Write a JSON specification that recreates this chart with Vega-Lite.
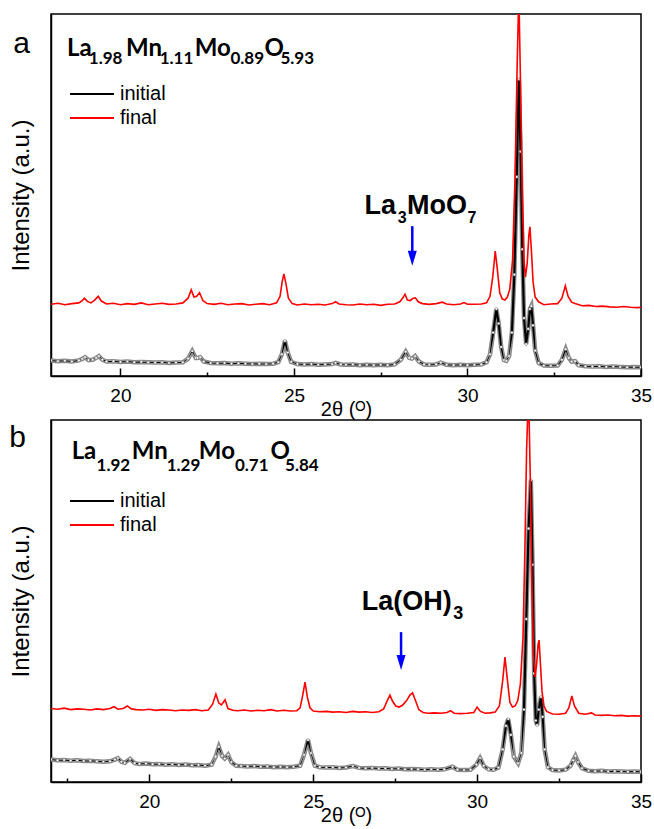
{
"$schema":"https://vega.github.io/schema/vega-lite/v6.json",
"background":"white",
"padding":{"left":8,"top":13,"right":0,"bottom":0},
"spacing":-3,
"config":{
 "view":{"stroke":"black","strokeWidth":1.5},
 "axis":{"grid":false,"domainColor":"black","domainWidth":1.5,"tickColor":"black","labelColor":"black","titleColor":"black","labelFont":"Liberation Sans","titleFont":"Liberation Sans","titleFontWeight":"normal"},
 "legend":{"labelFont":"Liberation Sans","labelFontSize":20,"labelColor":"black","padding":0}
},
"resolve":{"scale":{"color":"independent","size":"independent"}},
"datasets":{
"a_final":[{"x":18.0,"y":19.8},{"x":18.2,"y":20.1},{"x":18.4,"y":19.7},{"x":18.6,"y":20.0},{"x":18.8,"y":20.2},{"x":18.9,"y":20.8},{"x":18.96,"y":21.5},{"x":19.05,"y":20.6},{"x":19.15,"y":20.2},{"x":19.25,"y":20.9},{"x":19.36,"y":22.0},{"x":19.45,"y":20.7},{"x":19.6,"y":19.9},{"x":19.8,"y":20.1},{"x":20.0,"y":19.7},{"x":20.2,"y":20.0},{"x":20.4,"y":19.8},{"x":20.6,"y":20.2},{"x":20.8,"y":19.7},{"x":21.0,"y":19.9},{"x":21.2,"y":20.1},{"x":21.4,"y":19.8},{"x":21.6,"y":19.9},{"x":21.8,"y":20.2},{"x":21.95,"y":21.5},{"x":22.04,"y":23.8},{"x":22.12,"y":21.8},{"x":22.2,"y":22.0},{"x":22.28,"y":23.0},{"x":22.38,"y":20.8},{"x":22.5,"y":20.0},{"x":22.7,"y":19.8},{"x":22.9,"y":20.1},{"x":23.1,"y":19.7},{"x":23.3,"y":19.9},{"x":23.5,"y":20.0},{"x":23.7,"y":19.6},{"x":23.9,"y":19.8},{"x":24.1,"y":20.0},{"x":24.3,"y":19.7},{"x":24.5,"y":20.2},{"x":24.6,"y":22.0},{"x":24.66,"y":26.0},{"x":24.71,"y":28.2},{"x":24.77,"y":25.5},{"x":24.84,"y":21.5},{"x":24.95,"y":20.0},{"x":25.1,"y":19.6},{"x":25.3,"y":19.9},{"x":25.5,"y":19.7},{"x":25.7,"y":19.8},{"x":25.9,"y":19.6},{"x":26.1,"y":20.0},{"x":26.2,"y":20.5},{"x":26.3,"y":19.9},{"x":26.5,"y":19.7},{"x":26.7,"y":19.6},{"x":26.9,"y":19.9},{"x":27.1,"y":19.7},{"x":27.3,"y":19.8},{"x":27.5,"y":19.5},{"x":27.7,"y":19.8},{"x":27.9,"y":19.9},{"x":28.05,"y":20.5},{"x":28.14,"y":21.6},{"x":28.2,"y":22.6},{"x":28.27,"y":21.0},{"x":28.35,"y":20.8},{"x":28.42,"y":21.4},{"x":28.5,"y":21.6},{"x":28.58,"y":20.5},{"x":28.7,"y":20.0},{"x":28.9,"y":19.8},{"x":29.1,"y":20.0},{"x":29.27,"y":20.4},{"x":29.4,"y":19.9},{"x":29.6,"y":19.7},{"x":29.8,"y":19.9},{"x":29.9,"y":20.3},{"x":30.0,"y":19.8},{"x":30.2,"y":19.8},{"x":30.4,"y":19.9},{"x":30.55,"y":20.2},{"x":30.65,"y":22.0},{"x":30.73,"y":27.5},{"x":30.8,"y":34.5},{"x":30.86,"y":29.5},{"x":30.93,"y":23.0},{"x":31.0,"y":21.3},{"x":31.08,"y":21.0},{"x":31.15,"y":21.8},{"x":31.22,"y":24.0},{"x":31.3,"y":32.0},{"x":31.37,"y":55.0},{"x":31.43,"y":85.0},{"x":31.48,"y":106.0},{"x":31.53,"y":80.0},{"x":31.58,"y":50.0},{"x":31.63,"y":32.0},{"x":31.67,"y":27.3},{"x":31.72,"y":31.0},{"x":31.77,"y":39.0},{"x":31.8,"y":41.2},{"x":31.84,"y":35.0},{"x":31.89,"y":26.0},{"x":31.95,"y":21.8},{"x":32.05,"y":20.5},{"x":32.2,"y":19.7},{"x":32.4,"y":19.9},{"x":32.6,"y":20.0},{"x":32.72,"y":21.5},{"x":32.82,"y":24.9},{"x":32.9,"y":22.0},{"x":33.0,"y":20.4},{"x":33.1,"y":20.0},{"x":33.3,"y":19.4},{"x":33.5,"y":19.5},{"x":33.7,"y":19.2},{"x":33.9,"y":19.3},{"x":34.1,"y":19.1},{"x":34.3,"y":19.0},{"x":34.5,"y":19.2},{"x":34.7,"y":19.0},{"x":34.9,"y":18.9},{"x":35.0,"y":19.0}],
"a_init":[{"x":18.0,"y":4.3},{"x":18.2,"y":4.1},{"x":18.4,"y":4.2},{"x":18.6,"y":4.0},{"x":18.8,"y":4.3},{"x":18.9,"y":4.7},{"x":18.98,"y":5.2},{"x":19.08,"y":4.4},{"x":19.2,"y":4.5},{"x":19.3,"y":5.0},{"x":19.38,"y":5.5},{"x":19.48,"y":4.5},{"x":19.6,"y":4.0},{"x":19.8,"y":4.1},{"x":20.0,"y":3.9},{"x":20.2,"y":4.0},{"x":20.4,"y":3.8},{"x":20.6,"y":3.9},{"x":20.8,"y":3.8},{"x":21.0,"y":3.7},{"x":21.2,"y":3.8},{"x":21.4,"y":3.6},{"x":21.6,"y":3.7},{"x":21.8,"y":3.8},{"x":21.95,"y":4.8},{"x":22.07,"y":6.9},{"x":22.17,"y":5.0},{"x":22.22,"y":5.0},{"x":22.3,"y":5.2},{"x":22.4,"y":4.0},{"x":22.6,"y":3.6},{"x":22.8,"y":3.5},{"x":23.0,"y":3.6},{"x":23.2,"y":3.4},{"x":23.4,"y":3.5},{"x":23.6,"y":3.4},{"x":23.8,"y":3.3},{"x":24.0,"y":3.4},{"x":24.2,"y":3.3},{"x":24.4,"y":3.4},{"x":24.55,"y":3.8},{"x":24.65,"y":6.0},{"x":24.74,"y":9.7},{"x":24.82,"y":6.5},{"x":24.92,"y":3.9},{"x":25.1,"y":3.3},{"x":25.3,"y":3.2},{"x":25.5,"y":3.3},{"x":25.7,"y":3.1},{"x":25.9,"y":3.2},{"x":26.1,"y":3.3},{"x":26.2,"y":3.6},{"x":26.35,"y":3.2},{"x":26.5,"y":3.1},{"x":26.7,"y":3.2},{"x":26.9,"y":3.0},{"x":27.1,"y":3.1},{"x":27.3,"y":3.0},{"x":27.5,"y":3.1},{"x":27.7,"y":3.0},{"x":27.9,"y":3.2},{"x":28.08,"y":4.5},{"x":28.22,"y":6.7},{"x":28.32,"y":5.0},{"x":28.4,"y":4.8},{"x":28.49,"y":5.5},{"x":28.6,"y":4.0},{"x":28.75,"y":3.2},{"x":28.9,"y":3.1},{"x":29.1,"y":3.2},{"x":29.23,"y":3.7},{"x":29.4,"y":3.1},{"x":29.6,"y":3.0},{"x":29.8,"y":3.1},{"x":30.0,"y":3.0},{"x":30.2,"y":3.1},{"x":30.4,"y":3.2},{"x":30.55,"y":3.8},{"x":30.65,"y":6.0},{"x":30.74,"y":12.0},{"x":30.83,"y":18.5},{"x":30.9,"y":14.5},{"x":30.97,"y":8.0},{"x":31.05,"y":4.4},{"x":31.12,"y":4.2},{"x":31.2,"y":5.5},{"x":31.28,"y":12.0},{"x":31.35,"y":28.0},{"x":31.42,"y":55.0},{"x":31.48,"y":82.0},{"x":31.53,"y":62.0},{"x":31.58,"y":35.0},{"x":31.63,"y":16.0},{"x":31.69,"y":8.8},{"x":31.75,"y":13.0},{"x":31.8,"y":18.5},{"x":31.84,"y":19.3},{"x":31.89,"y":14.0},{"x":31.95,"y":7.0},{"x":32.05,"y":3.6},{"x":32.2,"y":2.9},{"x":32.4,"y":2.8},{"x":32.6,"y":2.9},{"x":32.72,"y":4.5},{"x":32.83,"y":7.4},{"x":32.92,"y":5.0},{"x":33.0,"y":4.0},{"x":33.1,"y":4.1},{"x":33.2,"y":3.0},{"x":33.4,"y":2.7},{"x":33.6,"y":2.6},{"x":33.8,"y":2.7},{"x":34.0,"y":2.5},{"x":34.2,"y":2.6},{"x":34.4,"y":2.5},{"x":34.6,"y":2.4},{"x":34.8,"y":2.5},{"x":35.0,"y":2.4}],
"b_final":[{"x":17.0,"y":20.3},{"x":17.2,"y":20.1},{"x":17.4,"y":20.4},{"x":17.6,"y":20.0},{"x":17.8,"y":20.2},{"x":18.0,"y":20.1},{"x":18.2,"y":19.9},{"x":18.4,"y":20.2},{"x":18.6,"y":20.0},{"x":18.8,"y":20.3},{"x":18.92,"y":20.8},{"x":19.05,"y":20.1},{"x":19.2,"y":20.3},{"x":19.33,"y":21.0},{"x":19.45,"y":20.2},{"x":19.6,"y":20.0},{"x":19.8,"y":19.9},{"x":20.0,"y":20.1},{"x":20.2,"y":19.8},{"x":20.4,"y":20.0},{"x":20.6,"y":19.9},{"x":20.8,"y":19.7},{"x":21.0,"y":19.9},{"x":21.2,"y":19.8},{"x":21.4,"y":20.0},{"x":21.6,"y":19.7},{"x":21.8,"y":19.9},{"x":21.93,"y":21.5},{"x":22.03,"y":24.3},{"x":22.12,"y":21.8},{"x":22.2,"y":21.3},{"x":22.31,"y":22.7},{"x":22.4,"y":20.3},{"x":22.55,"y":19.8},{"x":22.7,"y":19.7},{"x":22.9,"y":19.9},{"x":23.1,"y":19.6},{"x":23.3,"y":19.8},{"x":23.5,"y":19.7},{"x":23.7,"y":20.0},{"x":23.9,"y":19.6},{"x":24.1,"y":19.8},{"x":24.3,"y":19.6},{"x":24.5,"y":19.7},{"x":24.6,"y":20.5},{"x":24.68,"y":24.0},{"x":24.75,"y":27.6},{"x":24.82,"y":23.5},{"x":24.9,"y":20.5},{"x":25.0,"y":19.6},{"x":25.2,"y":19.4},{"x":25.4,"y":19.5},{"x":25.6,"y":19.3},{"x":25.8,"y":19.4},{"x":26.0,"y":19.2},{"x":26.2,"y":19.5},{"x":26.4,"y":19.3},{"x":26.6,"y":19.4},{"x":26.8,"y":19.2},{"x":27.0,"y":19.4},{"x":27.15,"y":20.2},{"x":27.26,"y":22.5},{"x":27.34,"y":24.0},{"x":27.42,"y":22.3},{"x":27.52,"y":21.0},{"x":27.62,"y":20.7},{"x":27.72,"y":21.2},{"x":27.85,"y":22.5},{"x":27.95,"y":24.0},{"x":28.03,"y":24.6},{"x":28.12,"y":22.5},{"x":28.22,"y":20.0},{"x":28.35,"y":19.2},{"x":28.5,"y":19.0},{"x":28.7,"y":19.1},{"x":28.9,"y":19.0},{"x":29.08,"y":19.2},{"x":29.19,"y":19.7},{"x":29.3,"y":19.0},{"x":29.5,"y":18.9},{"x":29.7,"y":19.0},{"x":29.9,"y":19.2},{"x":30.0,"y":20.7},{"x":30.1,"y":19.5},{"x":30.25,"y":19.0},{"x":30.4,"y":19.1},{"x":30.55,"y":19.3},{"x":30.68,"y":21.0},{"x":30.78,"y":28.0},{"x":30.85,"y":34.5},{"x":30.92,"y":28.5},{"x":31.0,"y":22.0},{"x":31.08,"y":20.7},{"x":31.16,"y":21.0},{"x":31.24,"y":22.5},{"x":31.32,"y":27.0},{"x":31.4,"y":40.0},{"x":31.46,"y":65.0},{"x":31.51,"y":92.0},{"x":31.57,"y":108.0},{"x":31.62,"y":85.0},{"x":31.67,"y":55.0},{"x":31.72,"y":35.0},{"x":31.77,"y":29.0},{"x":31.82,"y":33.0},{"x":31.86,"y":38.0},{"x":31.89,"y":39.2},{"x":31.93,"y":33.0},{"x":31.98,"y":25.0},{"x":32.04,"y":21.0},{"x":32.12,"y":19.5},{"x":32.3,"y":18.8},{"x":32.5,"y":18.7},{"x":32.7,"y":19.0},{"x":32.8,"y":20.5},{"x":32.89,"y":23.8},{"x":32.97,"y":21.0},{"x":33.1,"y":19.0},{"x":33.3,"y":18.7},{"x":33.49,"y":19.1},{"x":33.6,"y":18.5},{"x":33.8,"y":18.4},{"x":34.0,"y":18.5},{"x":34.2,"y":18.3},{"x":34.4,"y":18.4},{"x":34.6,"y":18.2},{"x":34.8,"y":18.3},{"x":35.0,"y":18.2}],
"b_init":[{"x":17.0,"y":6.2},{"x":17.2,"y":6.0},{"x":17.4,"y":6.1},{"x":17.6,"y":5.9},{"x":17.8,"y":6.0},{"x":18.0,"y":5.8},{"x":18.2,"y":5.9},{"x":18.4,"y":5.7},{"x":18.6,"y":5.6},{"x":18.8,"y":5.7},{"x":18.95,"y":6.2},{"x":19.04,"y":6.6},{"x":19.15,"y":5.6},{"x":19.25,"y":5.3},{"x":19.41,"y":6.4},{"x":19.55,"y":5.2},{"x":19.7,"y":5.0},{"x":19.9,"y":5.1},{"x":20.1,"y":4.9},{"x":20.3,"y":5.0},{"x":20.5,"y":4.8},{"x":20.7,"y":4.9},{"x":20.9,"y":4.7},{"x":21.1,"y":4.8},{"x":21.3,"y":4.6},{"x":21.5,"y":4.7},{"x":21.7,"y":4.5},{"x":21.9,"y":4.8},{"x":22.02,"y":7.0},{"x":22.12,"y":9.7},{"x":22.22,"y":7.2},{"x":22.3,"y":6.5},{"x":22.4,"y":7.5},{"x":22.5,"y":5.5},{"x":22.65,"y":4.5},{"x":22.8,"y":4.4},{"x":23.0,"y":4.3},{"x":23.2,"y":4.4},{"x":23.4,"y":4.2},{"x":23.6,"y":4.3},{"x":23.8,"y":4.1},{"x":24.0,"y":4.2},{"x":24.2,"y":4.1},{"x":24.4,"y":4.2},{"x":24.6,"y":4.5},{"x":24.72,"y":7.5},{"x":24.84,"y":11.6},{"x":24.93,"y":8.0},{"x":25.05,"y":4.5},{"x":25.2,"y":4.1},{"x":25.4,"y":4.0},{"x":25.6,"y":4.1},{"x":25.8,"y":3.9},{"x":26.0,"y":4.0},{"x":26.21,"y":4.4},{"x":26.4,"y":3.9},{"x":26.6,"y":3.8},{"x":26.8,"y":3.9},{"x":27.0,"y":3.7},{"x":27.2,"y":3.8},{"x":27.4,"y":3.6},{"x":27.6,"y":3.7},{"x":27.8,"y":3.5},{"x":28.0,"y":3.6},{"x":28.2,"y":3.5},{"x":28.4,"y":3.4},{"x":28.6,"y":3.5},{"x":28.8,"y":3.4},{"x":29.0,"y":3.5},{"x":29.25,"y":4.2},{"x":29.4,"y":3.4},{"x":29.6,"y":3.3},{"x":29.8,"y":3.4},{"x":29.98,"y":4.8},{"x":30.09,"y":6.6},{"x":30.2,"y":4.5},{"x":30.35,"y":3.5},{"x":30.5,"y":3.4},{"x":30.65,"y":4.0},{"x":30.78,"y":9.0},{"x":30.88,"y":15.5},{"x":30.95,"y":17.4},{"x":31.03,"y":13.0},{"x":31.12,"y":7.0},{"x":31.25,"y":5.2},{"x":31.35,"y":8.0},{"x":31.43,"y":20.0},{"x":31.5,"y":45.0},{"x":31.57,"y":70.0},{"x":31.64,"y":83.4},{"x":31.69,"y":60.0},{"x":31.74,"y":30.0},{"x":31.79,"y":17.0},{"x":31.83,"y":15.7},{"x":31.88,"y":20.0},{"x":31.95,"y":23.5},{"x":32.0,"y":18.0},{"x":32.06,"y":9.0},{"x":32.16,"y":4.1},{"x":32.3,"y":3.3},{"x":32.5,"y":3.2},{"x":32.7,"y":3.4},{"x":32.85,"y":4.5},{"x":32.93,"y":6.0},{"x":33.0,"y":7.2},{"x":33.08,"y":5.5},{"x":33.2,"y":3.8},{"x":33.4,"y":3.1},{"x":33.6,"y":3.0},{"x":33.8,"y":3.1},{"x":34.0,"y":2.9},{"x":34.2,"y":3.0},{"x":34.4,"y":2.9},{"x":34.6,"y":2.8},{"x":34.8,"y":2.9},{"x":35.0,"y":2.8}]
},
"vconcat":[
{
 "width":590,"height":362,
 "resolve":{"axis":{"x":"independent"}},
 "layer":[
  {"layer":[
   {"data":{"name":"a_init"},"mark":{"type":"line","color":"#8a8a8a","strokeWidth":4.5,"clip":true},
    "encoding":{"x":{"field":"x","type":"quantitative","scale":{"domain":[18,35],"nice":false,"zero":false},"axis":{"values":[20,25,30,35],"tickSize":-8,"tickWidth":1.5,"labelFontSize":19,"labelPadding":18,"labelFlush":false,"title":"2θ (ᴼ)","titleFontSize":20,"titlePadding":-6,"orient":"bottom"}},
     "y":{"field":"y","type":"quantitative","scale":{"domain":[0,100],"nice":false,"zero":false},"axis":{"ticks":false,"labels":false,"title":"Intensity (a.u.)","titleFontSize":24,"titlePadding":18}}}},
   {"data":{"name":"a_init"},"mark":{"type":"line","color":"#c4c4c4","strokeWidth":1.5,"clip":true},
    "encoding":{"x":{"field":"x","type":"quantitative","scale":{"domain":[18,35],"nice":false,"zero":false}},
     "y":{"field":"y","type":"quantitative","scale":{"domain":[0,100],"nice":false,"zero":false}}}},
   {"data":{"name":"a_init"},"mark":{"type":"trail","clip":true},
    "encoding":{"x":{"field":"x","type":"quantitative","scale":{"domain":[18,35],"nice":false,"zero":false}},
     "y":{"field":"y","type":"quantitative","scale":{"domain":[0,100],"nice":false,"zero":false}},
     "size":{"field":"y","type":"quantitative","scale":{"domain":[4.6,9],"range":[0,2.2],"clamp":true,"zero":false},"legend":null},
     "color":{"datum":"initial","type":"nominal","scale":{"domain":["initial","final"],"range":["black","#ff0000"]},"legend":{"title":null,"orient":"none","legendX":31,"legendY":70,"symbolType":"M-4,0H4","symbolSize":121,"symbolStrokeWidth":2,"labelOffset":18,"rowPadding":4}}}},
   {"data":{"name":"a_init"},"mark":{"type":"point","shape":"circle","filled":true,"fill":"white","stroke":"#666666","strokeWidth":0.5,"size":7,"opacity":1,"clip":true},
    "encoding":{"x":{"field":"x","type":"quantitative","scale":{"domain":[18,35],"nice":false,"zero":false}},
     "y":{"field":"y","type":"quantitative","scale":{"domain":[0,100],"nice":false,"zero":false}}}},
   {"data":{"name":"a_final"},"mark":{"type":"line","strokeWidth":1.6,"clip":true},
    "encoding":{"x":{"field":"x","type":"quantitative","scale":{"domain":[18,35],"nice":false,"zero":false}},
     "y":{"field":"y","type":"quantitative","scale":{"domain":[0,100],"nice":false,"zero":false}},
     "color":{"datum":"final","type":"nominal"}}},
   {"data":{"values":[{}]},"mark":{"type":"text","text":"La","font":"Lato","fontWeight":"bold","fontSize":24,"align":"left","baseline":"alphabetic"},
    "encoding":{"x":{"datum":18.46,"type":"quantitative","scale":{"domain":[18,35],"nice":false,"zero":false}},"y":{"datum":88.4,"type":"quantitative","scale":{"domain":[0,100],"nice":false,"zero":false}}}},
   {"data":{"values":[{}]},"mark":{"type":"text","text":"1.98","font":"Lato","fontWeight":"bold","fontSize":17,"align":"left","baseline":"alphabetic"},
    "encoding":{"x":{"datum":19.09,"type":"quantitative","scale":{"domain":[18,35],"nice":false,"zero":false}},"y":{"datum":86.3,"type":"quantitative","scale":{"domain":[0,100],"nice":false,"zero":false}}}},
   {"data":{"values":[{}]},"mark":{"type":"text","text":"Mn","font":"Lato","fontWeight":"bold","fontSize":24,"align":"left","baseline":"alphabetic"},
    "encoding":{"x":{"datum":20.16,"type":"quantitative","scale":{"domain":[18,35],"nice":false,"zero":false}},"y":{"datum":88.4,"type":"quantitative","scale":{"domain":[0,100],"nice":false,"zero":false}}}},
   {"data":{"values":[{}]},"mark":{"type":"text","text":"1.11","font":"Lato","fontWeight":"bold","fontSize":17,"align":"left","baseline":"alphabetic"},
    "encoding":{"x":{"datum":21.13,"type":"quantitative","scale":{"domain":[18,35],"nice":false,"zero":false}},"y":{"datum":86.3,"type":"quantitative","scale":{"domain":[0,100],"nice":false,"zero":false}}}},
   {"data":{"values":[{}]},"mark":{"type":"text","text":"Mo","font":"Lato","fontWeight":"bold","fontSize":24,"align":"left","baseline":"alphabetic"},
    "encoding":{"x":{"datum":22.14,"type":"quantitative","scale":{"domain":[18,35],"nice":false,"zero":false}},"y":{"datum":88.4,"type":"quantitative","scale":{"domain":[0,100],"nice":false,"zero":false}}}},
   {"data":{"values":[{}]},"mark":{"type":"text","text":"0.89","font":"Lato","fontWeight":"bold","fontSize":17,"align":"left","baseline":"alphabetic"},
    "encoding":{"x":{"datum":23.17,"type":"quantitative","scale":{"domain":[18,35],"nice":false,"zero":false}},"y":{"datum":86.3,"type":"quantitative","scale":{"domain":[0,100],"nice":false,"zero":false}}}},
   {"data":{"values":[{}]},"mark":{"type":"text","text":"O","font":"Lato","fontWeight":"bold","fontSize":24,"align":"left","baseline":"alphabetic"},
    "encoding":{"x":{"datum":24.15,"type":"quantitative","scale":{"domain":[18,35],"nice":false,"zero":false}},"y":{"datum":88.4,"type":"quantitative","scale":{"domain":[0,100],"nice":false,"zero":false}}}},
   {"data":{"values":[{}]},"mark":{"type":"text","text":"5.93","font":"Lato","fontWeight":"bold","fontSize":17,"align":"left","baseline":"alphabetic"},
    "encoding":{"x":{"datum":24.61,"type":"quantitative","scale":{"domain":[18,35],"nice":false,"zero":false}},"y":{"datum":86.3,"type":"quantitative","scale":{"domain":[0,100],"nice":false,"zero":false}}}},
   {"data":{"values":[{}]},"mark":{"type":"text","text":"La","font":"Liberation Sans","fontWeight":"bold","fontSize":27,"align":"left","baseline":"alphabetic"},
    "encoding":{"x":{"datum":27.03,"type":"quantitative","scale":{"domain":[18,35],"nice":false,"zero":false}},"y":{"datum":44.7,"type":"quantitative","scale":{"domain":[0,100],"nice":false,"zero":false}}}},
   {"data":{"values":[{}]},"mark":{"type":"text","text":"3","font":"Liberation Sans","fontWeight":"bold","fontSize":16,"align":"left","baseline":"alphabetic"},
    "encoding":{"x":{"datum":27.99,"type":"quantitative","scale":{"domain":[18,35],"nice":false,"zero":false}},"y":{"datum":42.4,"type":"quantitative","scale":{"domain":[0,100],"nice":false,"zero":false}}}},
   {"data":{"values":[{}]},"mark":{"type":"text","text":"MoO","font":"Liberation Sans","fontWeight":"bold","fontSize":27,"align":"left","baseline":"alphabetic"},
    "encoding":{"x":{"datum":28.26,"type":"quantitative","scale":{"domain":[18,35],"nice":false,"zero":false}},"y":{"datum":44.7,"type":"quantitative","scale":{"domain":[0,100],"nice":false,"zero":false}}}},
   {"data":{"values":[{}]},"mark":{"type":"text","text":"7","font":"Liberation Sans","fontWeight":"bold","fontSize":16,"align":"left","baseline":"alphabetic"},
    "encoding":{"x":{"datum":30.0,"type":"quantitative","scale":{"domain":[18,35],"nice":false,"zero":false}},"y":{"datum":42.4,"type":"quantitative","scale":{"domain":[0,100],"nice":false,"zero":false}}}},
   {"data":{"values":[{}]},"mark":{"type":"text","text":"a","font":"Liberation Sans","fontSize":30,"align":"center","baseline":"alphabetic"},
    "encoding":{"x":{"datum":17.15,"type":"quantitative","scale":{"domain":[18,35],"nice":false,"zero":false}},"y":{"datum":89.2,"type":"quantitative","scale":{"domain":[0,100],"nice":false,"zero":false}}}}
  ]},
  {"layer":[
   {"data":{"values":[{}]},"mark":{"type":"rule","color":"#0000ff","strokeWidth":2.5},
    "encoding":{"x":{"datum":28.41,"type":"quantitative","scale":{"domain":[18,35],"nice":false,"zero":false},"axis":{"values":[22.5,27.5,32.5],"tickSize":-4,"tickWidth":1.5,"labels":false,"domain":false,"title":null,"orient":"bottom"}},
     "y":{"datum":41.4,"type":"quantitative","scale":{"domain":[0,100],"nice":false,"zero":false}},"y2":{"datum":33.5}}},
   {"data":{"values":[{}]},"mark":{"type":"point","shape":"M-0.6,-1L0.6,-1L0,1Z","filled":true,"color":"#0000ff","size":225,"opacity":1},
    "encoding":{"x":{"datum":28.41,"type":"quantitative","scale":{"domain":[18,35],"nice":false,"zero":false}},
     "y":{"datum":32.5,"type":"quantitative","scale":{"domain":[0,100],"nice":false,"zero":false}}}}
  ]}
 ]
},
{
 "width":590,"height":362,
 "resolve":{"axis":{"x":"independent"}},
 "layer":[
  {"layer":[
   {"data":{"name":"b_init"},"mark":{"type":"line","color":"#8a8a8a","strokeWidth":4.5,"clip":true},
    "encoding":{"x":{"field":"x","type":"quantitative","scale":{"domain":[17,35],"nice":false,"zero":false},"axis":{"values":[20,25,30,35],"tickSize":-8,"tickWidth":1.5,"labelFontSize":19,"labelPadding":18,"labelFlush":false,"title":"2θ (ᴼ)","titleFontSize":20,"titlePadding":-6,"orient":"bottom"}},
     "y":{"field":"y","type":"quantitative","scale":{"domain":[0,100],"nice":false,"zero":false},"axis":{"ticks":false,"labels":false,"title":"Intensity (a.u.)","titleFontSize":24,"titlePadding":18}}}},
   {"data":{"name":"b_init"},"mark":{"type":"line","color":"#c4c4c4","strokeWidth":1.5,"clip":true},
    "encoding":{"x":{"field":"x","type":"quantitative","scale":{"domain":[17,35],"nice":false,"zero":false}},
     "y":{"field":"y","type":"quantitative","scale":{"domain":[0,100],"nice":false,"zero":false}}}},
   {"data":{"name":"b_init"},"mark":{"type":"trail","clip":true},
    "encoding":{"x":{"field":"x","type":"quantitative","scale":{"domain":[17,35],"nice":false,"zero":false}},
     "y":{"field":"y","type":"quantitative","scale":{"domain":[0,100],"nice":false,"zero":false}},
     "size":{"field":"y","type":"quantitative","scale":{"domain":[6.8,11],"range":[0,2.2],"clamp":true,"zero":false},"legend":null},
     "color":{"datum":"initial","type":"nominal","scale":{"domain":["initial","final"],"range":["black","#ff0000"]},"legend":{"title":null,"orient":"none","legendX":31,"legendY":71,"symbolType":"M-4,0H4","symbolSize":121,"symbolStrokeWidth":2,"labelOffset":18,"rowPadding":4}}}},
   {"data":{"name":"b_init"},"mark":{"type":"point","shape":"circle","filled":true,"fill":"white","stroke":"#666666","strokeWidth":0.5,"size":7,"opacity":1,"clip":true},
    "encoding":{"x":{"field":"x","type":"quantitative","scale":{"domain":[17,35],"nice":false,"zero":false}},
     "y":{"field":"y","type":"quantitative","scale":{"domain":[0,100],"nice":false,"zero":false}}}},
   {"data":{"name":"b_final"},"mark":{"type":"line","strokeWidth":1.6,"clip":true},
    "encoding":{"x":{"field":"x","type":"quantitative","scale":{"domain":[17,35],"nice":false,"zero":false}},
     "y":{"field":"y","type":"quantitative","scale":{"domain":[0,100],"nice":false,"zero":false}},
     "color":{"datum":"final","type":"nominal"}}},
   {"data":{"values":[{}]},"mark":{"type":"text","text":"La","font":"Lato","fontWeight":"bold","fontSize":24,"align":"left","baseline":"alphabetic"},
    "encoding":{"x":{"datum":17.63,"type":"quantitative","scale":{"domain":[17,35],"nice":false,"zero":false}},"y":{"datum":89.2,"type":"quantitative","scale":{"domain":[0,100],"nice":false,"zero":false}}}},
   {"data":{"values":[{}]},"mark":{"type":"text","text":"1.92","font":"Lato","fontWeight":"bold","fontSize":17,"align":"left","baseline":"alphabetic"},
    "encoding":{"x":{"datum":18.39,"type":"quantitative","scale":{"domain":[17,35],"nice":false,"zero":false}},"y":{"datum":85.8,"type":"quantitative","scale":{"domain":[0,100],"nice":false,"zero":false}}}},
   {"data":{"values":[{}]},"mark":{"type":"text","text":"Mn","font":"Lato","fontWeight":"bold","fontSize":24,"align":"left","baseline":"alphabetic"},
    "encoding":{"x":{"datum":19.46,"type":"quantitative","scale":{"domain":[17,35],"nice":false,"zero":false}},"y":{"datum":89.2,"type":"quantitative","scale":{"domain":[0,100],"nice":false,"zero":false}}}},
   {"data":{"values":[{}]},"mark":{"type":"text","text":"1.29","font":"Lato","fontWeight":"bold","fontSize":17,"align":"left","baseline":"alphabetic"},
    "encoding":{"x":{"datum":20.53,"type":"quantitative","scale":{"domain":[17,35],"nice":false,"zero":false}},"y":{"datum":85.8,"type":"quantitative","scale":{"domain":[0,100],"nice":false,"zero":false}}}},
   {"data":{"values":[{}]},"mark":{"type":"text","text":"Mo","font":"Lato","fontWeight":"bold","fontSize":24,"align":"left","baseline":"alphabetic"},
    "encoding":{"x":{"datum":21.51,"type":"quantitative","scale":{"domain":[17,35],"nice":false,"zero":false}},"y":{"datum":89.2,"type":"quantitative","scale":{"domain":[0,100],"nice":false,"zero":false}}}},
   {"data":{"values":[{}]},"mark":{"type":"text","text":"0.71","font":"Lato","fontWeight":"bold","fontSize":17,"align":"left","baseline":"alphabetic"},
    "encoding":{"x":{"datum":22.61,"type":"quantitative","scale":{"domain":[17,35],"nice":false,"zero":false}},"y":{"datum":85.8,"type":"quantitative","scale":{"domain":[0,100],"nice":false,"zero":false}}}},
   {"data":{"values":[{}]},"mark":{"type":"text","text":"O","font":"Lato","fontWeight":"bold","fontSize":24,"align":"left","baseline":"alphabetic"},
    "encoding":{"x":{"datum":23.70,"type":"quantitative","scale":{"domain":[17,35],"nice":false,"zero":false}},"y":{"datum":89.2,"type":"quantitative","scale":{"domain":[0,100],"nice":false,"zero":false}}}},
   {"data":{"values":[{}]},"mark":{"type":"text","text":"5.84","font":"Lato","fontWeight":"bold","fontSize":17,"align":"left","baseline":"alphabetic"},
    "encoding":{"x":{"datum":24.14,"type":"quantitative","scale":{"domain":[17,35],"nice":false,"zero":false}},"y":{"datum":85.8,"type":"quantitative","scale":{"domain":[0,100],"nice":false,"zero":false}}}},
   {"data":{"values":[{}]},"mark":{"type":"text","text":"La(OH)","font":"Liberation Sans","fontWeight":"bold","fontSize":27,"align":"left","baseline":"alphabetic"},
    "encoding":{"x":{"datum":26.48,"type":"quantitative","scale":{"domain":[17,35],"nice":false,"zero":false}},"y":{"datum":47.5,"type":"quantitative","scale":{"domain":[0,100],"nice":false,"zero":false}}}},
   {"data":{"values":[{}]},"mark":{"type":"text","text":"3","font":"Liberation Sans","fontWeight":"bold","fontSize":18,"align":"left","baseline":"alphabetic"},
    "encoding":{"x":{"datum":29.27,"type":"quantitative","scale":{"domain":[17,35],"nice":false,"zero":false}},"y":{"datum":45.0,"type":"quantitative","scale":{"domain":[0,100],"nice":false,"zero":false}}}},
   {"data":{"values":[{}]},"mark":{"type":"text","text":"b","font":"Liberation Sans","fontSize":30,"align":"center","baseline":"alphabetic"},
    "encoding":{"x":{"datum":15.98,"type":"quantitative","scale":{"domain":[17,35],"nice":false,"zero":false}},"y":{"datum":92.5,"type":"quantitative","scale":{"domain":[0,100],"nice":false,"zero":false}}}}
  ]},
  {"layer":[
   {"data":{"values":[{}]},"mark":{"type":"rule","color":"#0000ff","strokeWidth":2.5},
    "encoding":{"x":{"datum":27.68,"type":"quantitative","scale":{"domain":[17,35],"nice":false,"zero":false},"axis":{"values":[17.5,22.5,27.5,32.5],"tickSize":-4,"tickWidth":1.5,"labels":false,"domain":false,"title":null,"orient":"bottom"}},
     "y":{"datum":41.4,"type":"quantitative","scale":{"domain":[0,100],"nice":false,"zero":false}},"y2":{"datum":34.0}}},
   {"data":{"values":[{}]},"mark":{"type":"point","shape":"M-0.6,-1L0.6,-1L0,1Z","filled":true,"color":"#0000ff","size":225,"opacity":1},
    "encoding":{"x":{"datum":27.68,"type":"quantitative","scale":{"domain":[17,35],"nice":false,"zero":false}},
     "y":{"datum":33.0,"type":"quantitative","scale":{"domain":[0,100],"nice":false,"zero":false}}}}
  ]}
 ]
}
]
}
